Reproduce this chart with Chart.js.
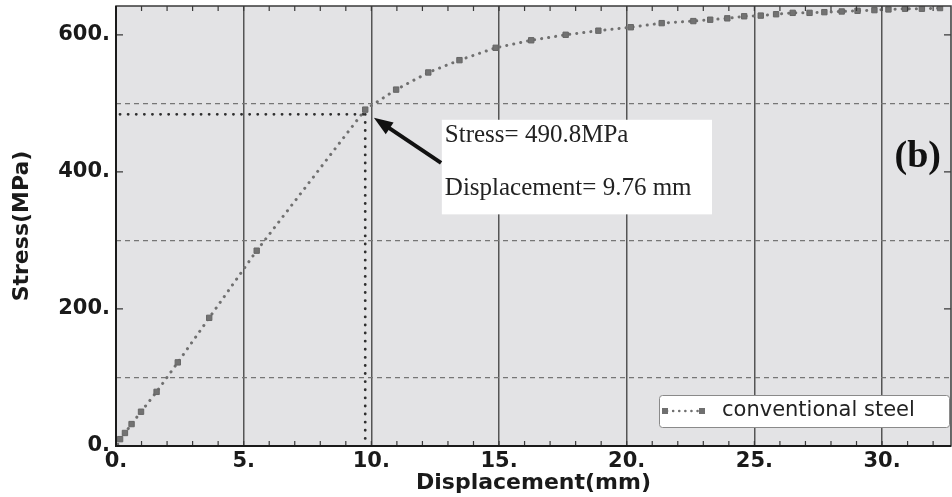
<!DOCTYPE html>
<html>
<head>
<meta charset="utf-8">
<script src="https://cdn.jsdelivr.net/npm/chart.js@4.4.1/dist/chart.umd.min.js"></script>
<style>
html, body { margin: 0; padding: 0; background: #fff; }
#wrap { width: 952px; height: 497px; }
</style>
</head>
<body>
<div id="wrap"><canvas id="c" width="952" height="497"></canvas></div>
<script>
// values
var displacement = [0, 0.16, 0.35, 0.61, 0.98, 1.59, 2.42, 3.65, 5.51, 9.76, 10.97, 12.23, 13.45, 14.87,
    16.26, 17.61, 18.89, 20.16, 21.37, 22.61, 23.27, 23.94, 24.60, 25.25, 25.85, 26.50, 27.16, 27.74,
    28.42, 29.04, 29.70, 30.25, 30.90, 31.56, 32.27];
var stress = [0, 10, 19, 32, 50, 79, 122, 187, 285, 490.8, 520, 545, 563, 581,
    592, 600, 606, 611, 617, 620, 622, 624, 627, 628, 630, 632, 632, 633,
    634, 635, 636, 637, 638, 638, 639];
var seriesName = "conventional steel";

var xTickValues = [0, 5, 10, 15, 20, 25, 30];
var yTickValues = [0, 100, 200, 300, 400, 500, 600];
var yLabelValues = [0, 200, 400, 600];
var yDashedValues = [100, 300, 500];

var yieldPoint = { x: 9.76, y: 490.8 };
var guideY = 484;
var noteLines = ["Stress= 490.8MPa", "Displacement= 9.76 mm"];
var panelLabel = "(b)";

function dotted(ctx, x1, y1, x2, y2, gap, width, color) {
    ctx.save();
    ctx.strokeStyle = color;
    ctx.lineWidth = width;
    ctx.lineCap = "round";
    ctx.setLineDash([0.1, gap]);
    ctx.beginPath();
    ctx.moveTo(x1, y1);
    ctx.lineTo(x2, y2);
    ctx.stroke();
    ctx.restore();
}

function noPad(s) {
    s.paddingTop = 0;
    s.paddingBottom = 0;
    s.paddingLeft = 0;
    s.paddingRight = 0;
}

var decor = {
    id: "decor",
    beforeDraw: function (chart) {
        var a = chart.chartArea, ctx = chart.ctx;
        ctx.save();
        ctx.fillStyle = "#e3e3e5";
        ctx.fillRect(a.left, a.top, a.right - a.left, a.bottom - a.top);
        ctx.restore();
    },
    beforeDatasetsDraw: function (chart) {
        var a = chart.chartArea, ctx = chart.ctx;
        var xs = chart.scales.x, ys = chart.scales.y;
        var gx = xs.getPixelForValue(yieldPoint.x), gy = ys.getPixelForValue(guideY);
        dotted(ctx, a.left + 4, gy, gx, gy, 8, 2.8, "#2e2e2e");
        dotted(ctx, gx, gy, gx, a.bottom, 8, 2.8, "#2e2e2e");
    },
    afterDatasetsDraw: function (chart) {
        var a = chart.chartArea, ctx = chart.ctx;
        var xs = chart.scales.x, ys = chart.scales.y;
        var i, px, py;

        // frame and inward ticks
        ctx.save();
        ctx.strokeStyle = "#3a3a3a";
        ctx.lineWidth = 1.2;
        ctx.beginPath();
        for (i = 1; i <= 32; i++) {
            px = xs.getPixelForValue(i);
            ctx.moveTo(px, a.bottom);
            ctx.lineTo(px, a.bottom - 5);
            ctx.moveTo(px, a.top);
            ctx.lineTo(px, a.top + 5);
        }
        yLabelValues.forEach(function (v) {
            if (v === 0) return;
            py = ys.getPixelForValue(v);
            ctx.moveTo(a.left, py);
            ctx.lineTo(a.left + 7, py);
            ctx.moveTo(a.right, py);
            ctx.lineTo(a.right - 7, py);
        });
        ctx.stroke();
        ctx.lineWidth = 1.5;
        ctx.strokeRect(a.left, a.top, a.right - a.left, a.bottom - a.top);
        ctx.strokeStyle = "#1a1a1a";
        ctx.lineWidth = 2;
        ctx.beginPath();
        ctx.moveTo(a.left, a.top);
        ctx.lineTo(a.left, a.bottom);
        ctx.lineTo(a.right, a.bottom);
        ctx.stroke();
        ctx.restore();

        // note box
        var bx1 = xs.getPixelForValue(12.76), bx2 = xs.getPixelForValue(23.34);
        var by1 = ys.getPixelForValue(476), by2 = ys.getPixelForValue(338);
        ctx.save();
        ctx.fillStyle = "#ffffff";
        ctx.fillRect(bx1, by1, bx2 - bx1, by2 - by1);
        ctx.fillStyle = "#222";
        ctx.font = "25px 'Liberation Serif'";
        ctx.textBaseline = "alphabetic";
        ctx.fillText(noteLines[0], bx1 + 3, by1 + 22);
        ctx.fillText(noteLines[1], bx1 + 3, by1 + 75);

        // arrow
        var tx = xs.getPixelForValue(12.73), ty = ys.getPixelForValue(413);
        var hx = xs.getPixelForValue(10.1), hy = ys.getPixelForValue(479);
        var ang = Math.atan2(hy - ty, hx - tx);
        ctx.strokeStyle = "#111";
        ctx.fillStyle = "#111";
        ctx.lineWidth = 4;
        ctx.beginPath();
        ctx.moveTo(tx, ty);
        ctx.lineTo(hx - 14 * Math.cos(ang), hy - 14 * Math.sin(ang));
        ctx.stroke();
        ctx.beginPath();
        ctx.moveTo(hx, hy);
        ctx.lineTo(hx - 19 * Math.cos(ang) + 7 * Math.sin(ang), hy - 19 * Math.sin(ang) - 7 * Math.cos(ang));
        ctx.lineTo(hx - 19 * Math.cos(ang) - 7 * Math.sin(ang), hy - 19 * Math.sin(ang) + 7 * Math.cos(ang));
        ctx.closePath();
        ctx.fill();

        // panel label
        ctx.font = "bold 38px 'Liberation Serif'";
        ctx.textAlign = "center";
        ctx.textBaseline = "middle";
        ctx.fillStyle = "#111";
        ctx.fillText(panelLabel, xs.getPixelForValue(31.4), ys.getPixelForValue(421));
        ctx.restore();

        // legend
        var lx = a.right - 292, ly = a.bottom - 51, lw = 290, lh = 32;
        ctx.save();
        ctx.fillStyle = "#fff";
        ctx.strokeStyle = "#8a8a8a";
        ctx.lineWidth = 1;
        ctx.beginPath();
        ctx.roundRect(lx + 0.5, ly + 0.5, lw, lh, 3);
        ctx.fill();
        ctx.stroke();
        var my = ly + lh / 2;
        dotted(ctx, lx + 8, my, lx + 42, my, 6, 2.5, "#6f6f6f");
        ctx.fillStyle = "#6f6f6f";
        ctx.fillRect(lx + 3, my - 3, 6, 6);
        ctx.fillRect(lx + 40, my - 3, 6, 6);
        ctx.fillStyle = "#222";
        ctx.font = "21px 'DejaVu Sans'";
        ctx.textBaseline = "middle";
        ctx.fillText(seriesName, lx + 63, my);
        ctx.restore();
    }
};

var points = displacement.map(function (x, i) { return { x: x, y: stress[i] }; });

new Chart(document.getElementById("c"), {
    type: "scatter",
    data: {
        datasets: [{
            label: seriesName,
            data: points,
            showLine: true,
            borderColor: "#707070",
            borderWidth: 3,
            borderDash: [0.1, 7],
            borderCapStyle: "round",
            pointStyle: "rect",
            pointRadius: 3.8,
            pointBackgroundColor: "#727272",
            pointBorderColor: "#666",
            pointBorderWidth: 1,
            tension: 0
        }]
    },
    options: {
        responsive: false,
        animation: false,
        devicePixelRatio: 1,
        layout: { autoPadding: false, padding: { top: 6, right: 1, left: 0, bottom: 0 } },
        plugins: { legend: { display: false }, tooltip: { enabled: false } },
        scales: {
            x: {
                type: "linear",
                min: 0,
                max: 32.7,
                afterBuildTicks: function (s) { s.ticks = xTickValues.map(function (v) { return { value: v }; }); },
                afterFit: function (s) { s.height = 51; noPad(s); },
                grid: { color: "#555", lineWidth: 1.5, drawTicks: false },
                border: { display: false },
                ticks: {
                    padding: 3,
                    color: "#1a1a1a",
                    font: { family: "'DejaVu Sans'", size: 21, weight: "bold" },
                    callback: function (v) { return v + "."; }
                },
                title: {
                    display: true,
                    text: "Displacement(mm)",
                    color: "#1a1a1a",
                    font: { family: "'DejaVu Sans'", size: 22, weight: "bold", lineHeight: 1.2 },
                    padding: { top: 0, bottom: 1 }
                }
            },
            y: {
                type: "linear",
                min: 0,
                max: 642,
                afterBuildTicks: function (s) { s.ticks = yTickValues.map(function (v) { return { value: v }; }); },
                afterFit: function (s) { s.width = 116; noPad(s); },
                grid: {
                    drawTicks: false,
                    lineWidth: 1.2,
                    color: function (c) {
                        return c.tick && yDashedValues.indexOf(c.tick.value) >= 0 ? "#767676" : "rgba(0,0,0,0)";
                    }
                },
                border: { display: false, dash: [5, 4] },
                ticks: {
                    padding: 6,
                    color: "#1a1a1a",
                    font: { family: "'DejaVu Sans'", size: 21, weight: "bold" },
                    callback: function (v) { return yLabelValues.indexOf(v) >= 0 ? v + "." : ""; }
                },
                title: {
                    display: true,
                    text: "Stress(MPa)",
                    color: "#1a1a1a",
                    font: { family: "'DejaVu Sans'", size: 22, weight: "bold", lineHeight: 1.2 },
                    padding: { top: 9, bottom: 0 }
                }
            }
        }
    },
    plugins: [decor]
});
</script>
</body>
</html>
